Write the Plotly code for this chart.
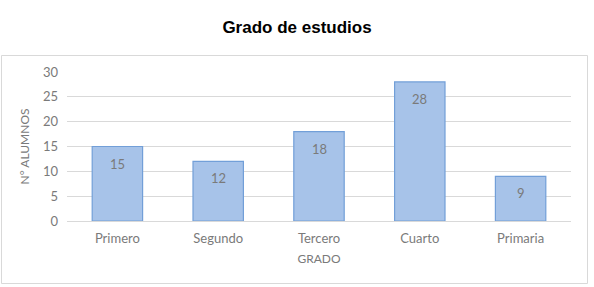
import plotly.graph_objects as go

categories = ["Primero", "Segundo", "Tercero", "Cuarto", "Primaria"]
values = [15, 12, 18, 28, 9]
y_ticks = [0, 5, 10, 15, 20, 25, 30]

W, H = 594, 287
L, R, T, B = 67, 23, 72, 66
pw, ph = W - L - R, H - T - B
FONT = "Lato, Open Sans, sans-serif"
GRAY = "#7a7a7a"

def px_x(p):
    return (p - L) / pw

def px_y(p):
    return (H - B - p) / ph

fig = go.Figure(go.Bar(
    x=categories, y=values, width=0.5,
    marker=dict(color="#a7c3e9", line=dict(color="#729fd8", width=1.2)),
    hoverinfo="x+y",
))

for c, v in zip(categories, values):
    fig.add_annotation(x=c, y=v, text=str(v), showarrow=False, yanchor="top", yshift=-7,
                       font=dict(family=FONT, size=13, color=GRAY))

fig.update_layout(
    width=W, height=H, margin=dict(l=L, r=R, t=T, b=B),
    paper_bgcolor="white", plot_bgcolor="white", showlegend=False,
    title=dict(text="<b>Grado de estudios</b>", x=0.5, xanchor="center", y=1 - 27 / H, yanchor="middle",
               font=dict(family="Liberation Sans, Arial, sans-serif", size=17, color="black")),
    xaxis=dict(showgrid=False, showline=True, linecolor="#d9d9d9", linewidth=1,
               tickfont=dict(family=FONT, size=13, color=GRAY), ticklabelstandoff=5,
               title=dict(text="GRADO", standoff=10, font=dict(family=FONT, size=12, color=GRAY)),
               ticks=""),
    yaxis=dict(range=[0, 30], tickvals=y_ticks, showgrid=True, gridcolor="#d9d9d9", gridwidth=1,
               zeroline=False, showline=False, ticks="", ticklabelstandoff=8,
               tickfont=dict(family=FONT, size=13, color=GRAY),
               title=dict(text="N° ALUMNOS", standoff=10, font=dict(family=FONT, size=12, color=GRAY))),
    shapes=[dict(type="rect", xref="paper", yref="paper",
                 x0=px_x(1.5), x1=px_x(587.5), y0=px_y(283.5), y1=px_y(55.5),
                 line=dict(color="#d9d9d9", width=1), fillcolor="rgba(0,0,0,0)", layer="below")],
)

fig.write_html("out.html")
